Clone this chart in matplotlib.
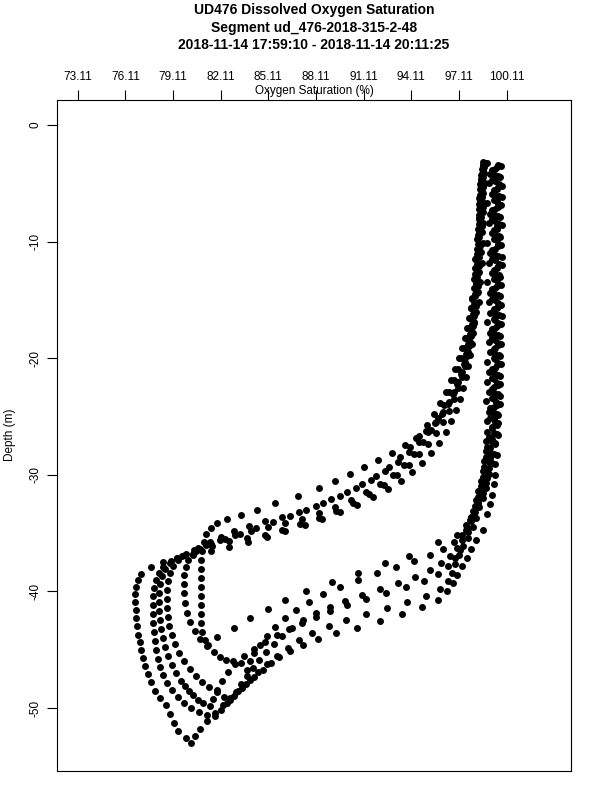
import matplotlib
matplotlib.use("Agg")
import matplotlib.pyplot as plt

plt.rcParams['font.family'] = ['Liberation Sans', 'DejaVu Sans']
plt.rcParams['axes.unicode_minus'] = False

# ---------------- data (depth in m, oxygen saturation in %) ----------------
# Dive 1
d1_down_depth = [-3.6, -4.5, -5.3, -6.2, -7.0, -7.9, -8.7, -9.6, -10.4, -11.3,
                 -12.1, -13.0, -13.8, -14.7, -15.5, -16.4, -17.2, -18.1, -18.9, -19.8,
                 -20.6, -21.5, -22.3, -23.2, -24.0, -24.9, -25.7, -26.6, -27.4, -28.3,
                 -29.1, -30.0, -30.8, -31.7, -32.5, -33.4,
                 -34.7, -35.6, -36.4, -37.1, -37.8, -38.6, -39.3, -40.0, -40.7, -41.3,
                 -41.9, -42.5, -43.1, -43.6, -44.1, -44.6, -45.1, -45.6, -46.1, -46.7,
                 -47.3, -47.9, -48.5, -49.1, -49.7, -50.4, -51.1, -51.8, -52.4, -53.0]
d1_down_o2 = [99.5, 99.7, 99.6, 99.8, 99.6, 99.7, 99.5, 99.7, 99.6, 99.8,
              99.6, 99.7, 99.5, 99.7, 99.6, 99.8, 99.5, 99.7, 99.6, 99.7,
              99.5, 99.7, 99.6, 99.7, 99.5, 99.6, 99.5, 99.6, 99.4, 99.5,
              99.4, 99.4, 99.3, 99.2, 99.1, 98.9,
              98.6, 98.2, 97.9, 97.6, 97.3, 97.0, 96.75, 96.35, 95.8, 94.8,
              93.5, 92.15, 90.7, 89.4, 88.25, 87.3, 86.5, 85.8, 85.25, 84.75,
              84.2, 83.7, 83.2, 82.7, 82.25, 81.75, 81.25, 80.8, 80.5, 80.25]
d1_up_depth = [-52.6, -52.0, -51.3, -50.5, -49.7, -49.1, -48.5, -47.8, -47.1, -46.4,
               -45.7, -45.0, -44.3, -43.7, -43.0, -42.3, -41.6, -40.9, -40.2, -39.6,
               -39.0, -38.5,
               -37.91, -37.48, -37.14, -36.88, -36.54, -36.19, -35.76, -35.33, -34.82, -34.31,
               -33.79, -33.19, -32.59, -31.90, -31.22, -30.53, -29.76, -28.99, -28.13, -27.27,
               -26.33, -25.39, -24.44, -23.50, -22.56, -21.61, -20.67, -19.73, -18.78, -17.84,
               -17.0, -16.1, -15.3, -14.4, -13.6, -12.7, -11.9, -11.0, -10.2, -9.3,
               -8.5, -7.6, -6.8, -5.9, -5.1, -4.2, -3.4]
d1_up_o2 = [79.9, 79.45, 79.15, 78.9, 78.65, 78.3, 77.95, 77.7, 77.5, 77.35,
            77.2, 77.1, 77.0, 76.9, 76.85, 76.78, 76.75, 76.72, 76.72, 76.75,
            76.87, 77.12,
            77.72, 78.47, 79.35, 80.35, 81.48, 82.61, 83.81, 85.00, 86.19, 87.39,
            88.52, 89.65, 90.71, 91.72, 92.66, 93.48, 94.17, 94.80, 95.36, 95.86,
            96.30, 96.61, 96.93, 97.18, 97.37, 97.56, 97.68, 97.81, 97.93, 97.99,
            98.05, 98.15, 98.1, 98.25, 98.2, 98.3, 98.25, 98.35, 98.3, 98.4,
            98.35, 98.45, 98.4, 98.5, 98.45, 98.55, 98.6]

# Dive 2
d2_down_depth = [-3.9, -4.8, -5.6, -6.5, -7.3, -8.2, -9.0, -9.9, -10.7, -11.6,
                 -12.4, -13.3, -14.1, -15.0, -15.8, -16.7, -17.5, -18.4, -19.2, -20.1,
                 -20.9, -21.8, -22.6, -23.5, -24.3, -25.2, -26.0, -26.9, -27.7, -28.6,
                 -29.4, -30.3, -31.1, -32.0, -32.8, -33.7, -34.5, -35.4,
                 -36.11, -36.88, -37.65, -38.42, -39.11, -39.79, -40.39, -40.91, -41.42, -41.94,
                 -42.45, -42.97, -43.57, -44.17, -44.85, -45.54, -46.23, -46.91, -47.60, -48.28,
                 -48.97, -49.57, -50.17, -50.69]
d2_down_o2 = [99.2, 99.4, 99.3, 99.5, 99.2, 99.4, 99.3, 99.5, 99.2, 99.4,
              99.3, 99.5, 99.2, 99.4, 99.3, 99.4, 99.2, 99.4, 99.3, 99.4,
              99.2, 99.3, 99.2, 99.3, 99.1, 99.3, 99.2, 99.2, 99.1, 99.1,
              99.0, 98.9, 98.8, 98.6, 98.4, 98.2, 98.0, 97.7,
              97.37, 97.12, 96.86, 96.68, 96.43, 95.92, 95.04, 93.86, 92.60, 91.28,
              90.02, 88.90, 87.89, 87.01, 86.32, 85.63, 85.00, 84.43, 83.93, 83.43,
              82.93, 82.49, 82.11, 81.74]
d2_up_depth = [-50.60, -50.34, -50.00, -49.57, -49.06, -48.46, -47.86, -47.17, -46.48, -45.80,
               -45.03, -44.25, -43.48, -42.71, -41.94, -41.17, -40.39, -39.71, -39.02, -38.42,
               -37.91,
               -37.39, -36.96, -36.54, -36.11, -35.68, -35.46, -35.15, -34.73, -34.23, -33.73,
               -33.13, -32.45, -31.67, -30.90, -30.05, -29.19, -28.23, -27.37, -26.41, -25.46,
               -24.50, -23.54, -22.58, -21.63, -20.67, -19.81, -18.95, -18.10, -17.24,
               -16.4, -15.5, -14.7, -13.8, -13.0, -12.1, -11.3, -10.4, -9.6, -8.7,
               -7.9, -7.0, -6.2, -5.3, -4.5, -3.6]
d2_up_o2 = [81.23, 80.73, 80.23, 79.79, 79.41, 79.04, 78.72, 78.47, 78.28, 78.16,
            78.03, 77.97, 77.91, 77.84, 77.84, 77.84, 77.84, 77.91, 78.03, 78.22,
            78.47,
            78.97, 79.66, 80.54, 81.55, 82.61, 83.75, 84.87, 86.00, 87.13, 88.27,
            89.40, 90.46, 91.47, 92.41, 93.23, 93.98, 94.61, 95.17, 95.67, 96.11,
            96.49, 96.80, 97.05, 97.30, 97.49, 97.62, 97.74, 97.87, 97.99,
            98.05, 98.2, 98.15, 98.3, 98.25, 98.4, 98.35, 98.45, 98.4, 98.55,
            98.5, 98.6, 98.55, 98.65, 98.6, 98.7]

# Dive 3
d3_down_depth = [-3.3, -4.2, -5.0, -5.9, -6.7, -7.6, -8.4, -9.3, -10.1, -11.0,
                 -11.8, -12.7, -13.5, -14.4, -15.2, -16.1, -16.9, -17.8, -18.6, -19.5,
                 -20.3, -21.2, -22.0, -22.9, -23.7, -24.6, -25.4, -26.3, -27.1, -28.0,
                 -28.8, -29.7, -30.5, -31.4, -32.2, -33.1, -33.9,
                 -34.7, -35.59, -36.28, -36.96, -37.56, -38.16, -38.77, -39.28, -39.79, -40.31,
                 -40.82, -41.34, -41.85, -42.45, -43.14, -43.83, -44.51, -45.20, -45.88, -46.57,
                 -47.26, -47.94, -48.63, -49.31]
d3_down_o2 = [98.9, 99.1, 99.0, 99.2, 98.9, 99.1, 99.0, 99.2, 98.9, 99.1,
              99.0, 99.2, 98.9, 99.1, 99.0, 99.1, 98.9, 99.1, 99.0, 99.1,
              98.9, 99.0, 98.9, 99.0, 98.8, 99.0, 98.9, 98.9, 98.8, 98.8,
              98.7, 98.6, 98.5, 98.3, 98.2, 98.0, 97.8,
              97.55, 97.30, 96.99, 96.55, 95.99, 95.30, 94.35, 93.29, 92.16, 91.03,
              89.96, 89.02, 88.14, 87.32, 86.63, 86.00, 85.44, 84.94, 84.50, 84.12,
              83.75, 83.37, 83.05, 82.68]
d3_up_depth = [-49.06, -48.63, -48.20, -47.77, -47.26, -46.66, -45.97, -45.28, -44.51, -43.74,
               -42.97, -42.20, -41.42, -40.65, -39.88, -39.11, -38.42, -37.82, -37.31, -36.88,
               -36.45, -36.05, -35.6, -35.2, -34.85, -34.5, -34.15, -33.75, -33.3, -32.8,
               -32.2, -31.5, -30.8, -30.0, -29.2, -28.2, -27.2, -26.2, -25.1, -24.0,
               -22.9, -21.9, -20.9, -20.0, -19.1, -18.3, -17.4, -16.55,
               -15.7, -14.8, -14.0, -13.1, -12.3, -11.4, -10.6, -9.7, -8.9, -8.0,
               -7.2, -6.3, -5.5, -4.6, -3.8, -3.2]
d3_up_o2 = [82.30, 81.86, 81.36, 80.92, 80.54, 80.17, 79.79, 79.48, 79.22, 79.04,
            78.85, 78.79, 78.72, 78.72, 78.72, 78.79, 78.91, 79.10, 79.41, 79.85,
            80.42, 81.17, 82.05, 82.99, 84.00, 85.06, 86.13, 87.20, 88.27, 89.33,
            90.34, 91.28, 92.16, 92.97, 93.67, 94.29, 94.86, 95.36, 95.80, 96.18,
            96.49, 96.80, 97.05, 97.24, 97.43, 97.56, 97.68, 97.81,
            97.9, 97.95, 98.05, 98.1, 98.15, 98.2, 98.25, 98.3, 98.3, 98.35,
            98.4, 98.4, 98.45, 98.5, 98.55, 98.6]

# Dive 4
d4_down_depth = [-3.5, -4.4, -5.2, -6.1, -6.9, -7.8, -8.6, -9.5, -10.3, -11.2,
                 -12.0, -12.9, -13.7, -14.6, -15.4, -16.3, -17.1, -18.0, -18.8, -19.7,
                 -20.5, -21.4, -22.2, -23.1, -23.9, -24.8, -25.6, -26.5, -27.3, -28.2,
                 -29.0, -29.9, -30.7, -31.6, -32.4, -33.5,
                 -34.56, -35.16, -35.76, -36.36, -36.88, -37.39, -37.91, -38.42, -39.02, -39.62,
                 -40.22, -40.91, -41.60, -42.28, -43.05, -43.83, -44.60, -45.28, -45.97, -46.74]
d4_down_o2 = [99.75, 99.6, 99.8, 99.65, 99.75, 99.6, 99.8, 99.65, 99.75, 99.6,
              99.8, 99.65, 99.75, 99.6, 99.75, 99.65, 99.75, 99.6, 99.75, 99.65,
              99.75, 99.6, 99.7, 99.6, 99.7, 99.5, 99.6, 99.5, 99.4, 99.3,
              99.2, 99.0, 98.8, 98.6, 98.3, 98.0,
              97.68, 97.30, 96.80, 96.11, 95.30, 94.29, 93.16, 91.97, 90.77, 89.65,
              88.58, 87.64, 86.82, 86.13, 85.50, 85.00, 84.56, 84.18, 83.93, 83.75]
d4_up_depth = [-46.14, -46.0, -45.85, -45.63, -45.20, -44.68, -44.08, -43.40, -42.62, -41.85,
               -40.99, -40.14, -39.37, -38.59, -37.91, -37.31, -36.79, -36.36,
               -35.8, -35.3, -34.8, -34.4, -34.0, -33.6, -33.2, -32.7, -32.1, -31.5,
               -30.8, -30.1, -29.3, -28.5, -27.64, -26.69, -25.73, -24.77, -23.81, -22.86,
               -21.90, -20.94, -19.98, -19.13, -18.27, -17.41, -16.55, -15.69,
               -14.9, -14.0, -13.2, -12.3, -11.5, -10.6, -9.8, -8.9, -8.1, -7.2,
               -6.4, -5.5, -4.7, -3.8]
d4_up_o2 = [83.37, 82.86, 82.43, 82.05, 81.67, 81.23, 80.79, 80.5, 80.2, 80.0,
            79.85, 79.8, 79.78, 79.8, 79.9, 80.05, 80.35, 80.8,
            81.42, 82.11, 82.93, 83.87, 84.87, 85.94, 87.01, 88.08, 89.08, 90.08,
            91.03, 91.91, 92.72, 93.41, 94.04, 94.61, 95.11, 95.55, 95.92, 96.30,
            96.61, 96.86, 97.12, 97.30, 97.49, 97.62, 97.74, 97.87,
            97.95, 98.1, 98.05, 98.2, 98.15, 98.3, 98.25, 98.4, 98.35, 98.5,
            98.45, 98.55, 98.5, 98.6]

# Dive 5
d5_down_depth = [-3.8, -4.7, -5.5, -6.4, -7.2, -8.1, -8.9, -9.8, -10.6, -11.5,
                 -12.3, -13.2, -14.0, -14.9, -15.7, -16.6, -17.4, -18.3, -19.1, -20.0,
                 -20.8, -21.7, -22.5, -23.4, -24.2, -25.1, -25.9, -26.8, -27.6, -28.5,
                 -29.3, -30.2, -31.0, -31.9, -32.7, -33.6,
                 -34.31, -35.16, -35.76, -36.96, -37.56, -38.42, -39.19, -39.97, -40.74, -41.51,
                 -42.28, -43.14, -43.91, -44.60]
d5_down_o2 = [99.4, 99.2, 99.5, 99.3, 99.4, 99.2, 99.5, 99.3, 99.4, 99.2,
              99.5, 99.3, 99.4, 99.2, 99.5, 99.3, 99.4, 99.2, 99.4, 99.3,
              99.4, 99.2, 99.3, 99.2, 99.3, 99.1, 99.2, 99.0, 98.9, 98.8,
              98.7, 98.6, 98.5, 98.3, 98.1, 97.9,
              97.56, 96.99, 95.80, 93.98, 92.47, 90.77, 89.15, 87.51, 86.13, 85.06,
              83.93, 82.93, 81.86, 81.30]
d5_up_depth = [-44.17, -43.48, -42.71, -41.94, -41.17, -40.39, -39.62, -38.85, -38.08, -37.31,
               -36.54, -35.76, -35.08, -34.56, -34.13, -33.79, -33.45, -33.02, -32.42, -31.82,
               -31.13, -30.53, -29.93, -29.33, -28.73, -28.13, -27.44, -26.84, -26.24, -25.56,
               -24.79, -23.93, -23.07, -22.21, -21.36, -20.50, -19.64, -18.78, -17.92, -17.07,
               -16.21, -15.35,
               -14.5, -13.6, -12.8, -11.9, -11.1, -10.2, -9.4, -8.5, -7.7, -6.8,
               -6.0, -5.1, -4.3, -3.5]
d5_up_o2 = [81.1, 80.95, 80.9, 80.85, 80.85, 80.85, 80.85, 80.85, 80.85, 80.9,
            80.95, 81.05, 81.2, 81.5, 81.9, 82.5, 83.37, 84.37, 85.50, 86.95,
            88.27, 89.33, 90.27, 91.15, 92.03, 92.91, 93.73, 94.42, 95.04, 95.61,
            96.05, 96.43, 96.74, 96.99, 97.24, 97.43, 97.56, 97.68, 97.81, 97.93,
            97.99, 98.05,
            98.1, 98.2, 98.15, 98.3, 98.25, 98.35, 98.3, 98.45, 98.4, 98.5,
            98.45, 98.55, 98.5, 98.6]

# Dive 6
d6_down_depth = [-3.4, -4.3, -5.1, -6.0, -6.8, -7.7, -8.5, -9.4, -10.2, -11.1,
                 -11.9, -12.8, -13.6, -14.5, -15.3, -16.2, -17.0, -17.9, -18.7, -19.6,
                 -20.4, -21.3, -22.1, -23.0, -23.8, -24.7, -25.5, -26.4, -27.2, -28.1,
                 -28.9, -29.8, -30.6, -31.5, -32.3, -33.2, -34.0, -34.9,
                 -36.45, -37.14, -37.82, -38.51, -39.11, -39.62, -40.14, -40.65, -41.17, -41.68,
                 -42.20, -42.71, -43.22, -43.74, -44.34, -44.94, -45.54, -46.23, -46.91, -47.68,
                 -48.46, -49.23, -49.83]
d6_down_o2 = [99.6, 99.35, 99.65, 99.4, 99.6, 99.35, 99.65, 99.4, 99.6, 99.35,
              99.65, 99.4, 99.6, 99.35, 99.6, 99.4, 99.6, 99.35, 99.6, 99.4,
              99.55, 99.35, 99.5, 99.35, 99.45, 99.3, 99.4, 99.3, 99.2, 99.1,
              99.0, 98.9, 98.7, 98.5, 98.3, 98.1, 97.9, 97.7,
              97.18, 96.86, 96.43, 95.80, 94.92, 93.79, 92.53, 91.28, 90.08, 89.02,
              88.08, 87.20, 86.38, 85.63, 84.87, 84.18, 83.56, 82.99, 82.55, 82.18,
              81.86, 81.61, 81.42]
d6_up_depth = [-49.6, -49.3, -48.9, -48.5, -48.1, -47.68, -47.00, -46.31, -45.54, -44.77,
               -44.00, -43.22, -42.45, -41.68, -40.91, -40.14, -39.37, -38.68, -38.08, -37.56,
               -37.14,
               -36.79, -36.28, -35.93, -35.51, -35.08, -34.56, -34.05, -33.53, -33.02, -32.42,
               -31.82, -31.13, -30.45, -29.67, -28.90, -28.04, -27.19, -26.33, -25.47, -24.61,
               -23.76, -22.90, -22.04, -21.18, -20.33, -19.47, -18.61, -17.75, -16.90,
               -16.0, -15.2, -14.3, -13.5, -12.6, -11.8, -10.9, -10.1, -9.2, -8.4,
               -7.5, -6.7, -5.8, -5.0, -4.1, -3.3]
d6_up_o2 = [81.0, 80.7, 80.35, 80.1, 79.85, 79.60, 79.29, 79.04, 78.79, 78.60,
            78.47, 78.35, 78.28, 78.22, 78.22, 78.22, 78.28, 78.41, 78.60, 78.91,
            79.35,
            79.91, 80.67, 81.48, 82.36, 83.31, 84.31, 85.38, 86.45, 87.51, 88.58,
            89.65, 90.65, 91.59, 92.47, 93.29, 93.98, 94.61, 95.17, 95.67, 96.11,
            96.49, 96.80, 97.05, 97.30, 97.49, 97.68, 97.81, 97.93, 98.05,
            98.2, 98.35, 98.3, 98.45, 98.4, 98.55, 98.5, 98.6, 98.55, 98.65,
            98.6, 98.7, 98.65, 98.75, 98.7, 98.8]

x_ticks = [73.11, 76.11, 79.11, 82.11, 85.11, 88.11, 91.11, 94.11, 97.11, 100.11]
x_tick_labels = ["73.11", "76.11", "79.11", "82.11", "85.11", "88.11",
                 "91.11", "94.11", "97.11", "100.11"]
y_ticks = [0, -10, -20, -30, -40, -50]
y_tick_labels = ["0", "-10", "-20", "-30", "-40", "-50"]

title_lines = ["UD476 Dissolved Oxygen Saturation",
               "Segment ud_476-2018-315-2-48",
               "2018-11-14 17:59:10 - 2018-11-14 20:11:25"]

# ---------------- figure ----------------
W, H = 600, 800
fig = plt.figure(figsize=(6, 8), dpi=100)
ax = fig.add_axes([57 / W, 29 / H, 514 / W, 671 / H])

profiles = [
    (d1_down_o2, d1_down_depth), (d1_up_o2, d1_up_depth),
    (d2_down_o2, d2_down_depth), (d2_up_o2, d2_up_depth),
    (d3_down_o2, d3_down_depth), (d3_up_o2, d3_up_depth),
    (d4_down_o2, d4_down_depth), (d4_up_o2, d4_up_depth),
    (d5_down_o2, d5_down_depth), (d5_up_o2, d5_up_depth),
    (d6_down_o2, d6_down_depth), (d6_up_o2, d6_up_depth),
]
for o2, depth in profiles:
    ax.plot(o2, depth, linestyle='none', marker='o', ms=5.0,
            color='black', mec='black', mew=0)

ax.set_xlim(71.8, 104.17)
ax.set_ylim(-55.4, 2.14)

ax.xaxis.tick_top()
ax.set_xticks(x_ticks)
ax.set_xticklabels(x_tick_labels)
ax.tick_params(axis='x', direction='out', length=7, width=0.8, pad=5, labelsize=8.5)
ax.set_yticks(y_ticks)
ax.set_yticklabels(y_tick_labels, rotation=90, va='center')
ax.tick_params(axis='y', direction='out', length=7, width=0.8, pad=4, labelsize=8.5)
for s in ax.spines.values():
    s.set_linewidth(0.8)

cx = (57 + 571) / 2 / W
fig.text(cx, 1 - 91 / H, "Oxygen Saturation (%)", ha='center', va='center', fontsize=8.5)
fig.text(10 / W, 1 - 435 / H, "Depth (m)", ha='center', va='center', rotation=90, fontsize=8.5)
for line, yy in zip(title_lines, [10, 28, 45]):
    fig.text(cx, 1 - yy / H, line, ha='center', va='center', fontsize=10, fontweight='bold')

fig.savefig("out.png", dpi=100)
